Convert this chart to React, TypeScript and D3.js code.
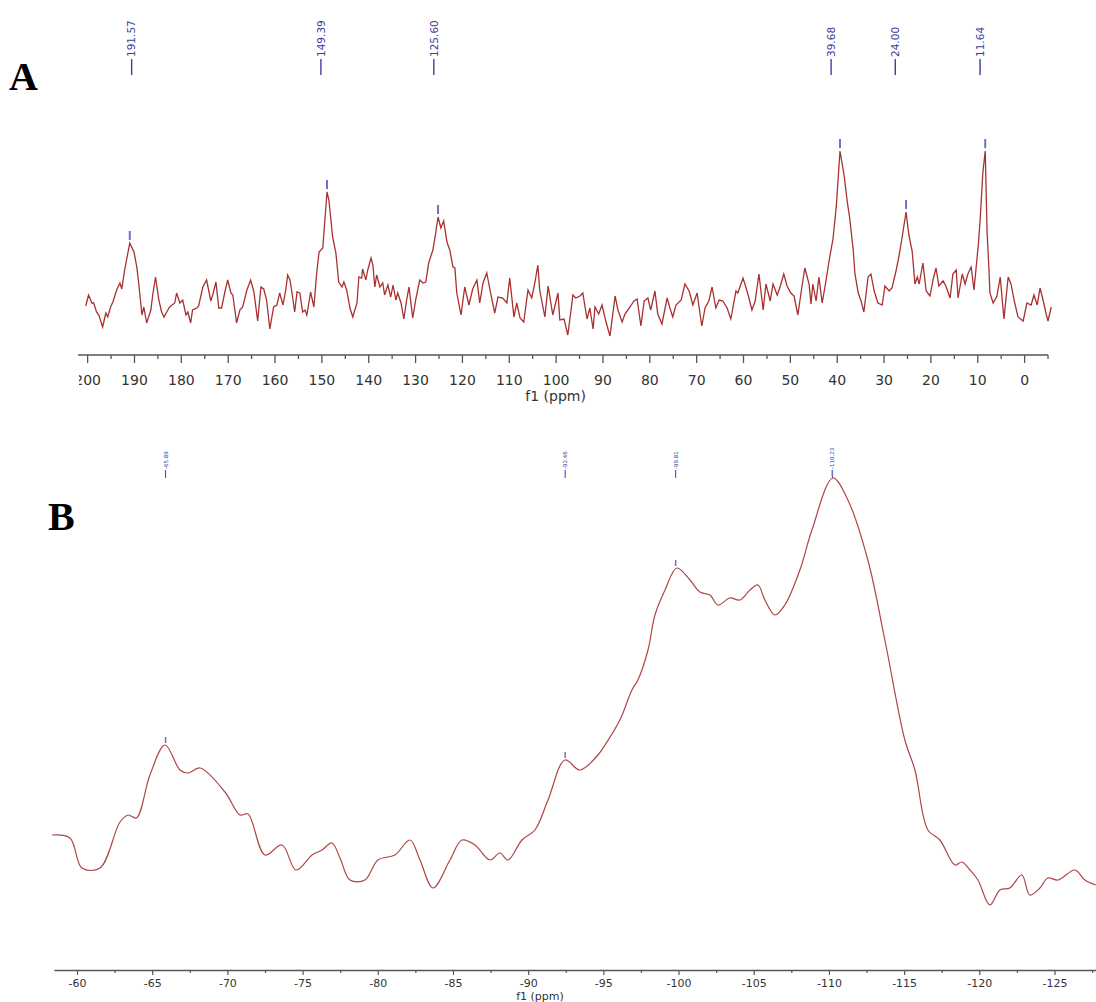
import { useEffect, useRef } from 'react';
import * as d3 from 'd3';

// panel A: [ppm, intensity a.u.]
const spectrumA: [number, number][] = [
  [200.3, 39], [199.7, 50], [199.0, 42], [198.6, 42], [198.0, 33], [197.5, 30], [196.7, 18], [196.0, 32],
  [195.6, 28], [195.0, 38], [194.5, 43], [193.7, 55], [193.0, 62], [192.6, 56], [192.0, 75], [190.9, 102],
  [190.0, 93], [189.4, 78], [189.0, 62], [188.3, 30], [187.9, 38], [187.3, 22], [186.4, 35], [186.0, 50],
  [185.4, 68], [184.7, 45], [184.1, 33], [183.6, 28], [183.0, 33], [182.4, 38], [181.3, 42], [180.9, 52],
  [180.2, 42], [179.6, 45], [178.9, 30], [178.5, 33], [177.9, 22], [177.5, 35], [176.6, 37], [176.2, 39],
  [175.3, 58], [174.5, 65], [173.6, 44], [173.2, 50], [172.5, 63], [171.9, 37], [171.3, 37], [170.6, 53],
  [170.0, 65], [169.3, 52], [168.9, 50], [168.1, 22], [167.4, 35], [166.8, 38], [165.9, 55], [165.1, 65],
  [164.4, 53], [163.6, 24], [162.9, 58], [162.3, 56], [161.7, 45], [161.0, 16], [160.2, 38], [159.5, 40],
  [158.9, 52], [158.2, 40], [157.6, 55], [157.2, 70], [156.7, 65], [156.3, 53], [155.7, 33], [155.2, 53],
  [154.6, 52], [154.0, 33], [153.5, 35], [153.1, 30], [152.3, 53], [151.6, 38], [151.0, 72], [150.5, 93],
  [149.7, 97], [148.8, 153], [148.4, 145], [147.6, 108], [146.9, 92], [146.3, 63], [145.6, 58], [145.2, 63],
  [144.6, 55], [143.9, 37], [143.3, 28], [142.4, 42], [142.0, 68], [141.4, 67], [141.2, 76], [140.5, 65],
  [140.1, 75], [139.4, 87], [139.0, 80], [138.6, 58], [138.2, 70], [137.5, 58], [136.9, 62], [136.5, 50],
  [135.8, 60], [135.2, 48], [134.7, 60], [134.1, 45], [133.7, 52], [133.0, 42], [132.4, 26], [131.8, 45],
  [131.3, 58], [130.5, 27], [129.8, 47], [129.0, 65], [128.3, 62], [127.7, 63], [127.1, 82], [126.2, 95],
  [125.6, 112], [125.1, 128], [124.5, 117], [123.9, 124], [123.2, 103], [122.6, 95], [121.9, 78], [121.5, 77],
  [121.1, 52], [120.2, 30], [119.4, 58], [118.5, 40], [117.7, 56], [116.8, 65], [116.2, 42], [115.5, 62],
  [114.7, 72], [114.0, 55], [113.0, 32], [112.3, 48], [111.3, 47], [110.4, 42], [109.8, 67], [108.9, 28],
  [108.3, 42], [107.6, 27], [106.8, 23], [105.9, 55], [105.1, 47], [104.4, 63], [103.8, 80], [103.4, 55],
  [102.3, 28], [101.6, 59], [100.6, 30], [99.5, 52], [99.1, 25], [98.2, 26], [97.4, 10], [96.3, 50],
  [95.7, 47], [94.8, 49], [94.2, 52], [93.3, 26], [92.7, 37], [92.0, 16], [91.6, 38], [90.8, 31],
  [90.1, 40], [89.3, 24], [88.4, 9], [87.3, 49], [86.7, 35], [85.8, 23], [85.2, 31], [84.1, 38],
  [83.3, 44], [82.6, 46], [81.8, 19], [81.1, 44], [80.3, 47], [79.7, 35], [78.8, 54], [78.2, 31],
  [77.3, 21], [76.2, 47], [75.6, 37], [75.0, 28], [74.3, 40], [73.2, 45], [72.4, 61], [71.5, 54],
  [70.7, 40], [69.8, 52], [68.8, 19], [68.1, 37], [67.3, 44], [66.6, 58], [65.8, 37], [65.1, 45],
  [64.3, 44], [63.4, 37], [62.6, 26], [61.5, 54], [61.1, 52], [60.0, 67], [59.6, 61], [58.9, 50],
  [58.1, 35], [57.4, 44], [56.6, 71], [55.7, 35], [55.1, 61], [54.2, 44], [53.6, 61], [52.7, 50],
  [52.1, 58], [51.3, 71], [50.6, 59], [49.8, 52], [49.1, 49], [48.3, 30], [47.4, 59], [46.8, 77],
  [45.9, 61], [45.5, 41], [45.1, 61], [44.4, 44], [43.8, 68], [43.1, 42], [42.3, 64], [41.6, 85],
  [40.8, 106], [40.1, 138], [39.3, 194], [38.4, 169], [37.8, 145], [37.2, 126], [36.5, 96], [36.1, 71],
  [35.4, 52], [34.8, 44], [34.2, 33], [33.3, 68], [32.7, 71], [32.0, 54], [31.2, 42], [30.3, 40],
  [29.7, 59], [28.8, 54], [28.2, 57], [27.3, 75], [26.7, 89], [26.1, 106], [25.2, 133], [24.6, 110],
  [23.9, 94], [23.3, 61], [22.8, 68], [22.4, 61], [21.6, 82], [20.9, 54], [20.1, 49], [19.4, 66],
  [18.8, 77], [18.2, 59], [17.3, 64], [16.7, 59], [15.8, 47], [15.2, 71], [14.5, 75], [14.1, 47],
  [13.2, 71], [12.6, 61], [12.0, 71], [11.3, 78], [10.7, 55], [9.8, 99], [9.4, 124], [8.8, 173],
  [8.3, 194], [7.9, 113], [7.5, 75], [7.3, 52], [6.6, 42], [5.8, 49], [5.1, 68], [4.3, 26],
  [3.4, 68], [2.8, 61], [2.1, 44], [1.3, 28], [0.2, 24], [-0.6, 42], [-1.5, 40], [-2.1, 50],
  [-2.8, 40], [-3.4, 57], [-4.1, 44], [-4.7, 31], [-5.1, 24], [-5.8, 38],
];

const peakLabelsA = ['191.57', '149.39', '125.60', '39.68', '24.00', '11.64'];
const peakLabelPpmA = [190.5, 150.1, 126.0, 41.2, 27.5, 9.4];
const peakTopPpmA = [190.9, 148.8, 125.1, 39.3, 25.2, 8.3];
const ticksA = [200, 190, 180, 170, 160, 150, 140, 130, 120, 110, 100, 90, 80, 70, 60, 50, 40, 30, 20, 10, 0];
const minorTicksA = [195, 185, 175, 165, 155, 145, 135, 125, 115, 105, 95, 85, 75, 65, 55, 45, 35, 25, 15, 5, -5];

// panel B: [ppm, intensity a.u.]
const spectrumB: [number, number][] = [
  [-58.34, 93], [-59.53, 90], [-60.33, 60], [-61.53, 60], [-62.86, 106], [-63.40, 113], [-63.95, 110],
  [-64.85, 153], [-65.85, 183], [-66.85, 158], [-67.38, 155], [-68.18, 160], [-69.84, 136], [-70.84, 113],
  [-71.37, 114], [-72.50, 73], [-73.63, 83], [-74.56, 58], [-75.63, 73], [-76.29, 78], [-76.95, 85],
  [-77.49, 70], [-78.15, 48], [-79.15, 48], [-80.01, 68], [-81.14, 73], [-82.14, 88], [-82.81, 68],
  [-83.67, 40], [-84.80, 68], [-85.60, 88], [-86.46, 83], [-87.46, 68], [-88.12, 75], [-88.66, 68],
  [-89.59, 88], [-90.45, 98], [-91.32, 128], [-92.45, 168], [-93.44, 158], [-94.64, 173], [-95.11, 183],
  [-96.10, 208], [-96.90, 238], [-97.30, 248], [-97.97, 278], [-98.43, 313], [-99.10, 338], [-99.89, 360],
  [-100.76, 348], [-101.42, 336], [-102.09, 333], [-102.62, 323], [-103.42, 330], [-104.08, 328],
  [-104.75, 338], [-105.28, 343], [-105.74, 328], [-106.41, 313], [-107.07, 323], [-108.07, 358],
  [-108.87, 398], [-110.27, 450], [-111.26, 428], [-112.59, 368], [-113.72, 288], [-115.05, 188],
  [-115.72, 158], [-116.58, 98], [-117.38, 88], [-118.38, 63], [-118.84, 66], [-119.38, 58], [-119.91, 48],
  [-120.70, 23], [-121.37, 38], [-122.03, 40], [-122.83, 53], [-123.36, 33], [-124.03, 40], [-124.56, 50],
  [-125.23, 48], [-126.36, 58], [-127.02, 48], [-127.75, 43],
];

const peakLabelsB = ['-65.89', '-92.46', '-99.81', '-110.23'];
const peakPpmB = [-65.89, -92.46, -99.81, -110.23];
const ticksB = [-60, -65, -70, -75, -80, -85, -90, -95, -100, -105, -110, -115, -120, -125];
const minorTicksB = [-62.5, -67.5, -72.5, -77.5, -82.5, -87.5, -92.5, -97.5, -102.5, -107.5, -112.5, -117.5, -122.5, -127.5];

const nearest = (data: [number, number][], ppm: number) =>
  d3.max(data.filter(d => Math.abs(d[0] - ppm) < 0.8), d => d[1]) ?? 0;

export default function App() {
  const ref = useRef<SVGSVGElement>(null);

  useEffect(() => {
    const el = ref.current;
    if (!el) return;
    const svg = d3.select(el);
    svg.selectAll('*').remove();

    const font = '"DejaVu Sans", Verdana, sans-serif';
    const axisColor = '#555';
    const labelBlue = '#3d3d9e';
    const markBlue = '#6f6fd2';

    // ---------- panel A ----------
    const xA = d3.scaleLinear().domain([201.95, -5.1]).range([78, 1048]);
    const yA = d3.scaleLinear().domain([0, 200]).range([345, 145]);

    svg.append('text').attr('x', 9).attr('y', 90)
      .attr('font-family', '"Liberation Serif", "Times New Roman", serif')
      .attr('font-weight', 'bold').attr('font-size', 40).text('A');

    svg.append('path')
      .datum(spectrumA)
      .attr('d', d3.line<[number, number]>().x(d => xA(d[0])).y(d => yA(d[1])))
      .attr('fill', 'none').attr('stroke', '#a83030').attr('stroke-width', 1.3);

    // axis A (labels clipped at the left end like the original)
    svg.append('clipPath').attr('id', 'clipA').append('rect')
      .attr('x', 79).attr('y', -20).attr('width', 1000).attr('height', 80);
    const gA = svg.append('g').attr('transform', 'translate(0,355)').attr('clip-path', 'url(#clipA)');
    gA.call(d3.axisBottom(xA).tickValues(minorTicksA).tickSize(4).tickSizeOuter(0).tickFormat(() => ''));
    gA.select('.domain').remove();
    const gA2 = svg.append('g').attr('transform', 'translate(0,355)').attr('clip-path', 'url(#clipA)');
    gA2.call(d3.axisBottom(xA).tickValues(ticksA).tickSize(8).tickSizeOuter(0).tickPadding(12).tickFormat(d => String(d)));
    gA2.select('.domain').remove();
    svg.append('line').attr('x1', 78).attr('x2', 1048).attr('y1', 355).attr('y2', 355)
      .attr('stroke', axisColor).attr('stroke-width', 1.6);
    gA.selectAll('.tick line').attr('stroke', axisColor).attr('stroke-width', 1.3);
    gA2.selectAll('.tick line').attr('stroke', axisColor).attr('stroke-width', 1.3);
    gA2.selectAll('.tick text').attr('font-family', font).attr('font-size', 14).attr('fill', '#333');

    svg.append('text').attr('x', xA(100)).attr('y', 401).attr('text-anchor', 'middle')
      .attr('font-family', font).attr('font-size', 14).attr('fill', '#333').text('f1 (ppm)');

    // peak labels A
    peakLabelsA.forEach((lab, i) => {
      const x = xA(peakLabelPpmA[i]);
      const bottom = 75;
      svg.append('line').attr('x1', x).attr('x2', x).attr('y1', bottom).attr('y2', bottom - 16)
        .attr('stroke', labelBlue).attr('stroke-width', 1.4);
      svg.append('text').attr('transform', `translate(${x},${bottom - 18}) rotate(-90)`)
        .attr('dy', '0.36em').attr('font-family', font).attr('font-size', 10.5)
        .attr('fill', labelBlue).text(lab);
      const px = xA(peakTopPpmA[i]);
      const py = yA(nearest(spectrumA, peakTopPpmA[i]));
      svg.append('line').attr('x1', px).attr('x2', px).attr('y1', py - 12).attr('y2', py - 3)
        .attr('stroke', markBlue).attr('stroke-width', 2);
    });

    // ---------- panel B ----------
    const xB = d3.scaleLinear().domain([-58.47, -127.76]).range([54, 1096]);
    const yB = d3.scaleLinear().domain([0, 500]).range([928, 428]);

    svg.append('text').attr('x', 48).attr('y', 530)
      .attr('font-family', '"Liberation Serif", "Times New Roman", serif')
      .attr('font-weight', 'bold').attr('font-size', 40).text('B');

    svg.append('path')
      .datum(spectrumB)
      .attr('d', d3.line<[number, number]>().x(d => xB(d[0])).y(d => yB(d[1])).curve(d3.curveCatmullRom))
      .attr('fill', 'none').attr('stroke', '#b04545').attr('stroke-width', 1.2);

    const gB = svg.append('g').attr('transform', 'translate(0,970)');
    gB.call(d3.axisBottom(xB).tickValues(minorTicksB).tickSize(3).tickSizeOuter(0).tickFormat(() => ''));
    gB.select('.domain').remove();
    const gB2 = svg.append('g').attr('transform', 'translate(0,970)');
    gB2.call(d3.axisBottom(xB).tickValues(ticksB).tickSize(5).tickSizeOuter(0).tickPadding(4).tickFormat(d => String(d)));
    gB2.select('.domain').attr('stroke', axisColor).attr('stroke-width', 1.4);
    gB.selectAll('.tick line').attr('stroke', axisColor).attr('stroke-width', 1.2);
    gB2.selectAll('.tick line').attr('stroke', axisColor).attr('stroke-width', 1.2);
    gB2.selectAll('.tick text').attr('font-family', font).attr('font-size', 11).attr('fill', '#333');

    svg.append('text').attr('x', 540).attr('y', 999.5).attr('text-anchor', 'middle')
      .attr('font-family', font).attr('font-size', 11).attr('fill', '#333').text('f1 (ppm)');

    peakLabelsB.forEach((lab, i) => {
      const x = xB(peakPpmB[i]);
      const bottom = 478;
      svg.append('line').attr('x1', x).attr('x2', x).attr('y1', bottom).attr('y2', bottom - 8)
        .attr('stroke', labelBlue).attr('stroke-width', 1);
      svg.append('text').attr('transform', `translate(${x},${bottom - 9}) rotate(-90)`)
        .attr('dy', '0.36em').attr('font-family', font).attr('font-size', 5.5)
        .attr('fill', labelBlue).text(lab);
      const py = yB(nearest(spectrumB, peakPpmB[i]));
      svg.append('line').attr('x1', x).attr('x2', x).attr('y1', py - 8).attr('y2', py - 2)
        .attr('stroke', markBlue).attr('stroke-width', 1.5);
    });
  }, []);

  return (
    <svg ref={ref} width={1096} height={1002}
      style={{ position: 'absolute', left: 0, top: 0, background: '#fff' }} />
  );
}
